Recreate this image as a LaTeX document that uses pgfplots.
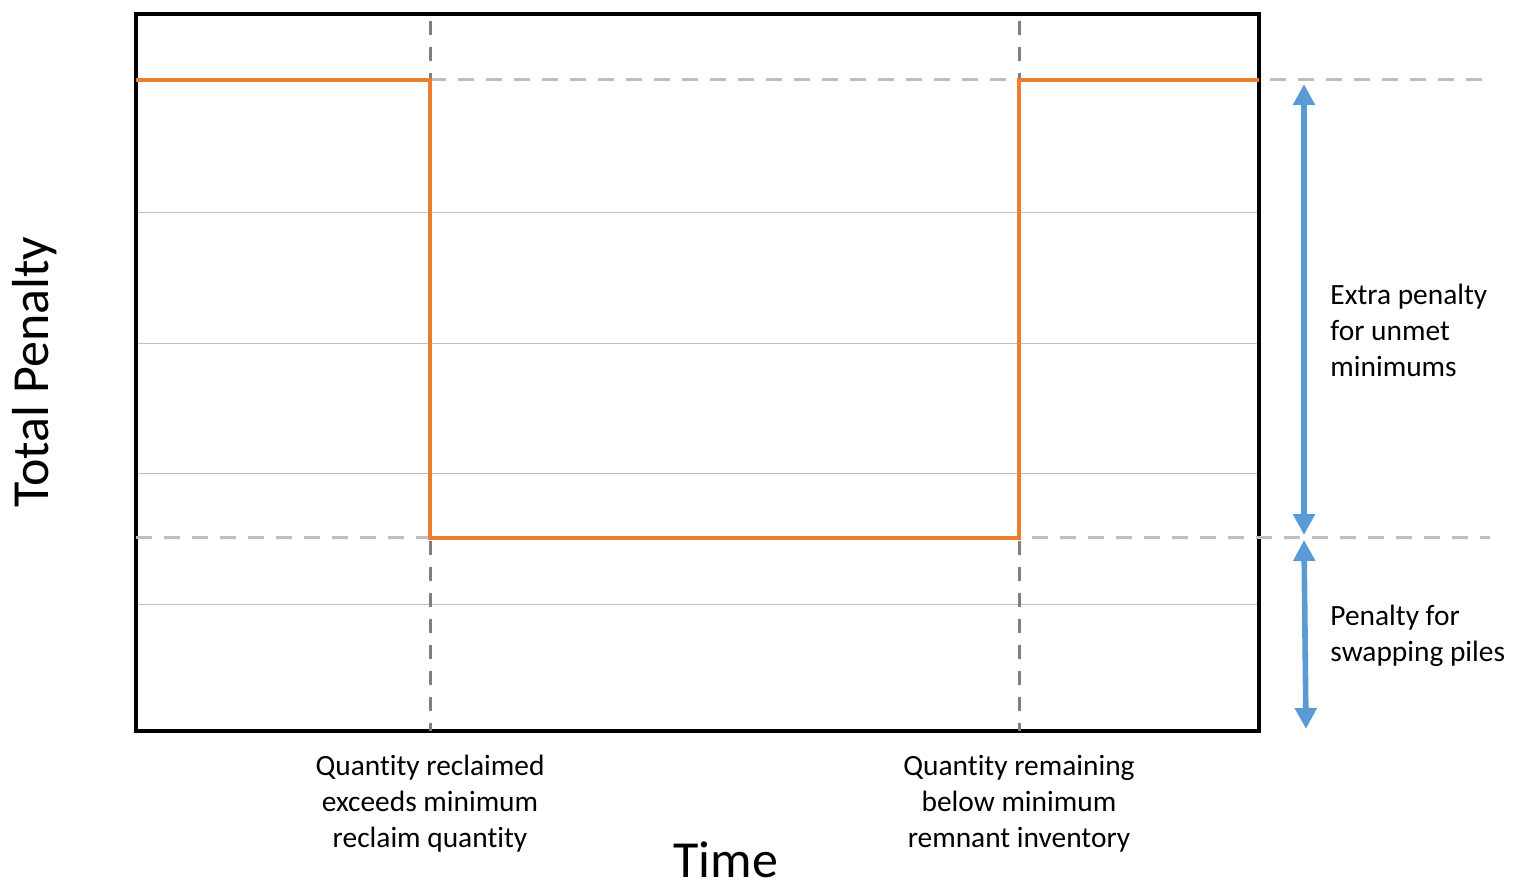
\documentclass[border=0pt]{standalone}
\usepackage{fontspec}
\setmainfont{Carlito}[RawFeature={-liga;-clig;-dlig}]
\usepackage{pgfplots}
\pgfplotsset{compat=1.18}
\usetikzlibrary{arrows.meta}
\definecolor{orng}{HTML}{ED7D31}
\definecolor{blu}{HTML}{5B9BD5}
\definecolor{lgray}{HTML}{BFBFBF}
\definecolor{dgray}{HTML}{808080}
\definecolor{grid}{HTML}{E6E6E6}
\begin{document}
\begin{tikzpicture}
\path[use as bounding box] (0,0) rectangle (762pt,445.5pt);
\begin{axis}[
  at={(68pt,80pt)}, anchor=south west,
  scale only axis, width=561.5pt, height=358.5pt,
  xmin=0, xmax=1123, ymin=0, ymax=717,
  clip=false,
  axis line style={line width=2pt, black},
  xtick=\empty,
  ytick={127,258,388,519},
  yticklabels={},
  major tick length=0pt,
  ymajorgrids,
  grid style={line width=0.5pt, grid},
]
% dashed reference lines
\addplot[lgray, line width=1.5pt, dash pattern=on 8pt off 6pt] coordinates {(294,651) (1354,651)};
\addplot[lgray, line width=1.5pt, dash pattern=on 8pt off 6pt] coordinates {(0,194) (1354,194)};
\addplot[dgray, line width=1.5pt, dash pattern=on 7pt off 6pt] coordinates {(294,710) (294,0)};
\addplot[dgray, line width=1.5pt, dash pattern=on 7pt off 6pt] coordinates {(883,710) (883,0)};
% step penalty
\addplot[orng, line width=1.7pt, line join=miter] coordinates {(0,651) (294,651) (294,193) (883,193) (883,651) (1123,651)};
% arrows
\addplot[blu, line width=2.8pt, {Triangle[width=10.5pt,length=10.5pt]}-{Triangle[width=10.5pt,length=10.5pt]}] coordinates {(1168,647) (1168,196)};
\addplot[blu, line width=2.8pt, {Triangle[width=10.5pt,length=10.5pt]}-{Triangle[width=10.5pt,length=10.5pt]}] coordinates {(1168,191) (1170,2)};
% texts
\node[anchor=west, align=left, font=\fontsize{14.7}{18}\selectfont, inner sep=0pt] at (axis cs:1194,401) {Extra penalty\\for unmet\\minimums};
\node[anchor=west, align=left, font=\fontsize{14.7}{18}\selectfont, inner sep=0pt] at (axis cs:1194,95) {Penalty for\\swapping piles};
\node[anchor=center, align=center, font=\fontsize{14.7}{18}\selectfont, inner sep=0pt] at (axis cs:294,-73) {Quantity reclaimed\\exceeds minimum\\reclaim quantity};
\node[anchor=center, align=center, font=\fontsize{14.7}{18}\selectfont, inner sep=0pt] at (axis cs:883,-73) {Quantity remaining\\below minimum\\remnant inventory};
\node[anchor=base, font=\fontsize{26}{30}\selectfont, inner sep=0pt] at (axis cs:590,-146) {Time};
\node[anchor=center, rotate=90, font=\fontsize{26}{30}\selectfont, inner sep=0pt] at (axis cs:-101,359) {Total Penalty};
\end{axis}
\end{tikzpicture}
\end{document}
